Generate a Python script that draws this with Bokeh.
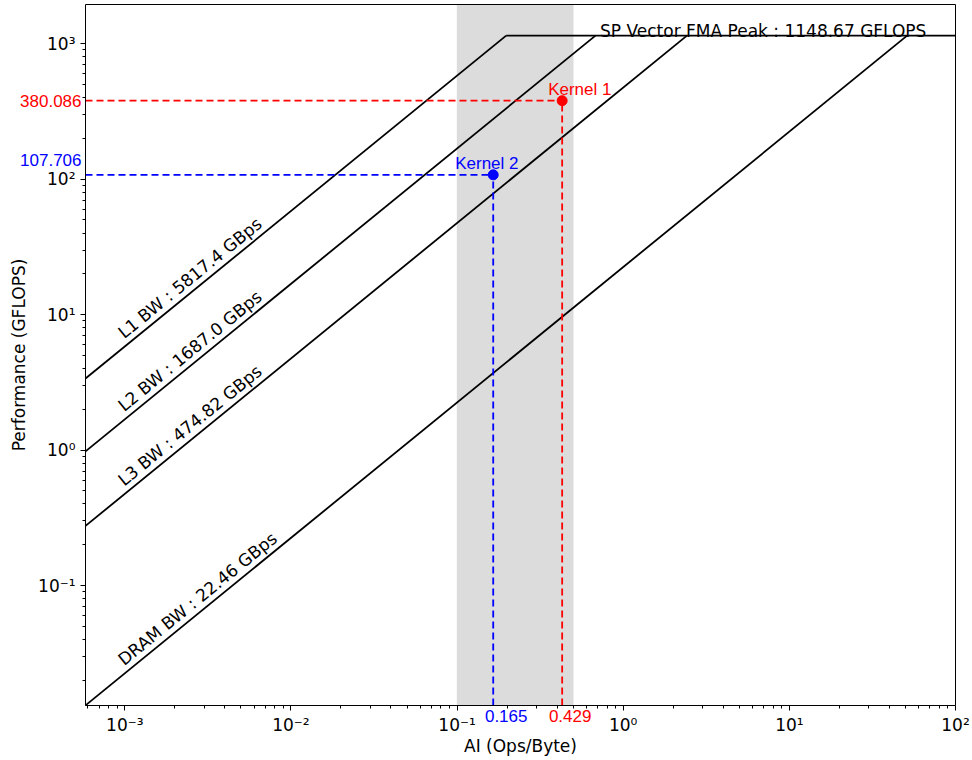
import math

from bokeh.plotting import figure
from bokeh.models import (BoxAnnotation, Label, FixedTicker, CustomJSTickFormatter,
                          LogAxis, Range1d)
from bokeh.embed import file_html
from bokeh.resources import INLINE

# ---- machine ceilings -------------------------------------------------------
peak_name = "SP Vector FMA Peak"
peak_gflops = 1148.67

bw_names = ["L1", "L2", "L3", "DRAM"]
bw_gbps = [5817.4, 1687.0, 474.82, 22.46]

# ---- measured kernels -------------------------------------------------------
kernel_names = ["Kernel 1", "Kernel 2"]
kernel_ai = [0.429, 0.165]          # Ops/Byte
kernel_perf = [380.086, 107.706]    # GFLOPS
kernel_colors = ["#ff0000", "#0000ff"]

# highlighted AI band
ai_band = [0.1, 0.5]

# ---- axes -------------------------------------------------------------------
x_major = [1e-3, 1e-2, 1e-1, 1e0, 1e1, 1e2]
y_major = [1e-1, 1e0, 1e1, 1e2, 1e3]
X_LIM = (5.8e-4, 100.0)
Y_LIM = (0.013, 1950.0)

# canvas and the box that holds the axes (pixels)
W, H = 972, 760
PAD_L, PAD_R, PAD_T, PAD_B = 85, 17, 4, 55

FONT = "DejaVu Sans"
SANS = "Liberation Sans"
FS = "17px"

xmin, xmax = X_LIM
ymin, ymax = Y_LIM
px_per_dec_x = (W - PAD_L - PAD_R) / math.log10(xmax / xmin)
px_per_dec_y = (H - PAD_T - PAD_B) / math.log10(ymax / ymin)

# the frame fills the canvas; the ranges are widened so the axes box sits
# inside it with room for tick and value labels
x_range = Range1d(10 ** (math.log10(xmin) - PAD_L / px_per_dec_x),
                  10 ** (math.log10(xmax) + PAD_R / px_per_dec_x))
y_range = Range1d(10 ** (math.log10(ymin) - PAD_B / px_per_dec_y),
                  10 ** (math.log10(ymax) + PAD_T / px_per_dec_y))


def minor_ticks(lo, hi):
    out = []
    for e in range(-5, 4):
        for k in range(2, 10):
            v = k * 10.0 ** e
            if lo <= v <= hi:
                out.append(v)
    return out


p = figure(
    width=W, height=H,
    x_axis_type="log", y_axis_type="log",
    x_range=x_range, y_range=y_range,
    x_axis_location=None, y_axis_location=None,
    min_border=0,
    output_backend="svg", toolbar_location=None,
    background_fill_color="white", border_fill_color="white",
)
p.title.visible = False
p.outline_line_color = None
p.grid.visible = False

sup_fmt = CustomJSTickFormatter(code="""
const e = Math.round(Math.log10(tick));
const sup = {'-':'\u207b','0':'\u2070','1':'\u00b9','2':'\u00b2','3':'\u00b3',
             '4':'\u2074','5':'\u2075','6':'\u2076','7':'\u2077','8':'\u2078','9':'\u2079'};
return '10' + String(e).split('').map(c => sup[c]).join('');
""")


def style_axis(ax):
    ax.axis_line_color = "black"
    ax.axis_line_width = 1
    ax.major_tick_line_color = "black"
    ax.minor_tick_line_color = "black"
    ax.major_tick_in = 0
    ax.major_tick_out = 5
    ax.minor_tick_in = 0
    ax.minor_tick_out = 3
    ax.major_label_text_font = FONT
    ax.major_label_text_font_size = FS
    ax.major_label_text_color = "black"
    ax.axis_label_text_font = FONT
    ax.axis_label_text_font_size = FS
    ax.axis_label_text_font_style = "normal"
    ax.axis_label_text_color = "black"


xaxis = LogAxis(fixed_location=ymin, bounds=X_LIM,
                ticker=FixedTicker(ticks=x_major, minor_ticks=minor_ticks(*X_LIM)),
                formatter=sup_fmt, axis_label="AI (Ops/Byte)")
yaxis = LogAxis(fixed_location=xmin, bounds=Y_LIM,
                ticker=FixedTicker(ticks=y_major, minor_ticks=minor_ticks(*Y_LIM)),
                formatter=sup_fmt, axis_label="Performance (GFLOPS)")
style_axis(xaxis)
style_axis(yaxis)
xaxis.major_label_standoff = 4
xaxis.axis_label_standoff = -2
yaxis.major_label_standoff = 5
yaxis.axis_label_standoff = 6
p.add_layout(xaxis, "below")
p.add_layout(yaxis, "left")

# closing edges of the axes box
for side, loc, bounds in (("above", ymax, X_LIM), ("right", xmax, Y_LIM)):
    edge = LogAxis(fixed_location=loc, bounds=bounds,
                   ticker=FixedTicker(ticks=[]), formatter=sup_fmt,
                   axis_line_color="black", axis_line_width=1,
                   major_tick_line_color=None, minor_tick_line_color=None)
    p.add_layout(edge, side)

# shaded AI band
p.add_layout(BoxAnnotation(left=ai_band[0], right=ai_band[1],
                           bottom=ymin, top=ymax,
                           fill_color="#dcdcdc", fill_alpha=1.0,
                           line_color="#d2d2d2", line_width=1,
                           level="underlay"))

# ---- roofline ---------------------------------------------------------------
for bw in bw_gbps:
    p.line([xmin, peak_gflops / bw], [bw * xmin, peak_gflops],
           line_color="black", line_width=1.8)
p.line([peak_gflops / max(bw_gbps), xmax], [peak_gflops, peak_gflops],
       line_color="black", line_width=1.8)

# on-screen slope of the bandwidth ceilings
slope_angle = math.atan2(px_per_dec_y, px_per_dec_x)

label_x = 9.4e-4
label_lift = 1.30
for name, bw in zip(bw_names, bw_gbps):
    p.add_layout(Label(x=label_x, y=bw * label_x * label_lift,
                       text=f"{name} BW : {bw} GBps", angle=slope_angle,
                       text_font=FONT, text_font_size=FS, text_color="black",
                       text_align="left", text_baseline="alphabetic"))

p.add_layout(Label(x=66.8, y=peak_gflops, y_offset=5,
                   text=f"{peak_name} : {peak_gflops} GFLOPS",
                   text_font=FONT, text_font_size=FS, text_color="black",
                   text_align="right", text_baseline="alphabetic"))

# ---- kernels ----------------------------------------------------------------
name_dx = [-14, -38]
ai_dx = [8, 13]
perf_dy = [0, 15]
for i, (name, ai, perf, col) in enumerate(zip(kernel_names, kernel_ai,
                                               kernel_perf, kernel_colors)):
    p.line([xmin, ai], [perf, perf], line_color=col, line_width=1.8,
           line_dash="7 4")
    p.line([ai, ai], [ymin, perf], line_color=col, line_width=1.8,
           line_dash="7 4")
    p.scatter([ai], [perf], marker="circle", size=10, fill_color=col,
              line_color=col)
    p.add_layout(Label(x=ai, y=perf, x_offset=name_dx[i], y_offset=11,
                       text=name, text_font=SANS, text_font_size=FS,
                       text_color=col, text_align="left",
                       text_baseline="alphabetic"))
    p.add_layout(Label(x=xmin, y=perf, x_offset=-4, y_offset=perf_dy[i],
                       text=str(perf), text_font=SANS, text_font_size=FS,
                       text_color=col, text_align="right",
                       text_baseline="middle"))
    p.add_layout(Label(x=ai, y=ymin, x_offset=ai_dx[i], y_offset=-10,
                       text=str(ai), text_font=SANS, text_font_size=FS,
                       text_color=col, text_align="center",
                       text_baseline="middle"))

open("out.html", "w").write(file_html(p, INLINE, title="Roofline"))
